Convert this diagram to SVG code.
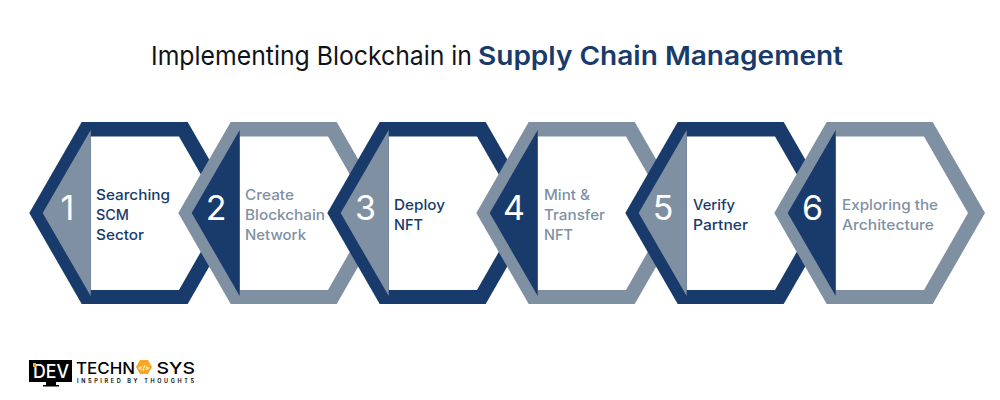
<svg xmlns="http://www.w3.org/2000/svg" width="1000" height="400" viewBox="0 0 1000 400">
<style>
text{font-family:"Inter","Liberation Sans",sans-serif}
.title{font-size:26px;font-weight:400;fill:#101418}
.title2{font-size:26px;font-weight:600;fill:#183b6b}
.num{font-size:34px;font-weight:400;fill:#fff;text-anchor:middle}
.lbl{font-size:14.5px;font-weight:500}
.dk{fill:#183b6b}.gy{fill:#8090a3}.wh{fill:#fff}
</style>
<defs>
<polygon id="outer" points="29.3,213 81.7,122 187.7,122 240,213 187.7,304 81.7,304"/>
<polygon id="inner" points="90.7,136.5 179,136.5 223,213 179,290 90.7,290"/>
<polygon id="tri" points="42.7,213 90.7,130 90.7,296"/>
</defs>
<rect width="1000" height="400" fill="#fff"/>
<text x="151" y="65" class="title" textLength="321" lengthAdjust="spacingAndGlyphs">Implementing Blockchain in</text>
<text x="478" y="65" class="title2" textLength="365" lengthAdjust="spacingAndGlyphs">Supply Chain Management</text>
<g id="connectors"></g>
<g id="node1">
<use href="#outer" class="dk"/><use href="#inner" class="wh"/><use href="#tri" class="gy"/>
<text x="67.500" y="220" class="num">1</text>
<text class="lbl dk" x="96" y="200" textLength="74" lengthAdjust="spacingAndGlyphs">Searching</text>
<text class="lbl dk" x="96" y="220" textLength="33" lengthAdjust="spacingAndGlyphs">SCM</text>
<text class="lbl dk" x="96" y="240" textLength="48" lengthAdjust="spacingAndGlyphs">Sector</text>
</g>
<g id="node2" transform="translate(149,0)">
<use href="#outer" class="gy"/><use href="#inner" class="wh"/><use href="#tri" class="dk"/>
<text x="67" y="220" class="num">2</text>
<text class="lbl gy" x="96" y="200" textLength="49" lengthAdjust="spacingAndGlyphs">Create</text>
<text class="lbl gy" x="96" y="220" textLength="80" lengthAdjust="spacingAndGlyphs">Blockchain</text>
<text class="lbl gy" x="96" y="240" textLength="61" lengthAdjust="spacingAndGlyphs">Network</text>
</g>
<g id="node3" transform="translate(298,0)">
<use href="#outer" class="dk"/><use href="#inner" class="wh"/><use href="#tri" class="gy"/>
<text x="67.500" y="220" class="num">3</text>
<text class="lbl dk" x="96" y="210" textLength="51" lengthAdjust="spacingAndGlyphs">Deploy</text>
<text class="lbl dk" x="96" y="230" textLength="29" lengthAdjust="spacingAndGlyphs">NFT</text>
</g>
<g id="node4" transform="translate(447,0)">
<use href="#outer" class="gy"/><use href="#inner" class="wh"/><use href="#tri" class="dk"/>
<text x="67" y="220" class="num">4</text>
<text class="lbl gy" x="97" y="200" textLength="46" lengthAdjust="spacingAndGlyphs">Mint &amp;</text>
<text class="lbl gy" x="97" y="220" textLength="61" lengthAdjust="spacingAndGlyphs">Transfer</text>
<text class="lbl gy" x="97" y="240" textLength="29" lengthAdjust="spacingAndGlyphs">NFT</text>
</g>
<g id="node5" transform="translate(596,0)">
<use href="#outer" class="dk"/><use href="#inner" class="wh"/><use href="#tri" class="gy"/>
<text x="67" y="220" class="num">5</text>
<text class="lbl dk" x="97" y="210" textLength="42" lengthAdjust="spacingAndGlyphs">Verify</text>
<text class="lbl dk" x="97" y="230" textLength="55" lengthAdjust="spacingAndGlyphs">Partner</text>
</g>
<g id="node6" transform="translate(745,0)">
<use href="#outer" class="gy"/><use href="#inner" class="wh"/><use href="#tri" class="dk"/>
<text x="67.500" y="220" class="num">6</text>
<text class="lbl gy" x="97" y="210" textLength="96" lengthAdjust="spacingAndGlyphs">Exploring the</text>
<text class="lbl gy" x="97" y="230" textLength="92" lengthAdjust="spacingAndGlyphs">Architecture</text>
</g>
<g id="logo">
<rect x="29" y="360" width="43" height="22" fill="#000"/>
<rect x="46" y="382" width="10" height="3" fill="#000"/><rect x="43" y="385" width="16" height="1.500" fill="#000"/>
<text x="33" y="378" font-size="19" font-weight="500" fill="#fff" textLength="36" lengthAdjust="spacingAndGlyphs">DEV</text>
<rect x="33" y="363" width="3" height="4" fill="#f5a623"/>
<text x="76" y="374" font-size="16" font-weight="500" fill="#000" textLength="59" lengthAdjust="spacingAndGlyphs">TECHN</text>
<polygon points="136,367 140,360 148,360 152,367 148,374 140,374" fill="#f5a623"/>
<text x="144" y="369.500" font-size="6.500" font-weight="700" fill="#fff" text-anchor="middle">&lt;/&gt;</text>
<text x="156.500" y="374" font-size="16" font-weight="500" fill="#000" textLength="38.500" lengthAdjust="spacingAndGlyphs">SYS</text>
<text x="77" y="383" font-size="5.500" font-weight="600" fill="#000" textLength="117">INSPIRED BY THOUGHTS</text>
</g>
</svg>
